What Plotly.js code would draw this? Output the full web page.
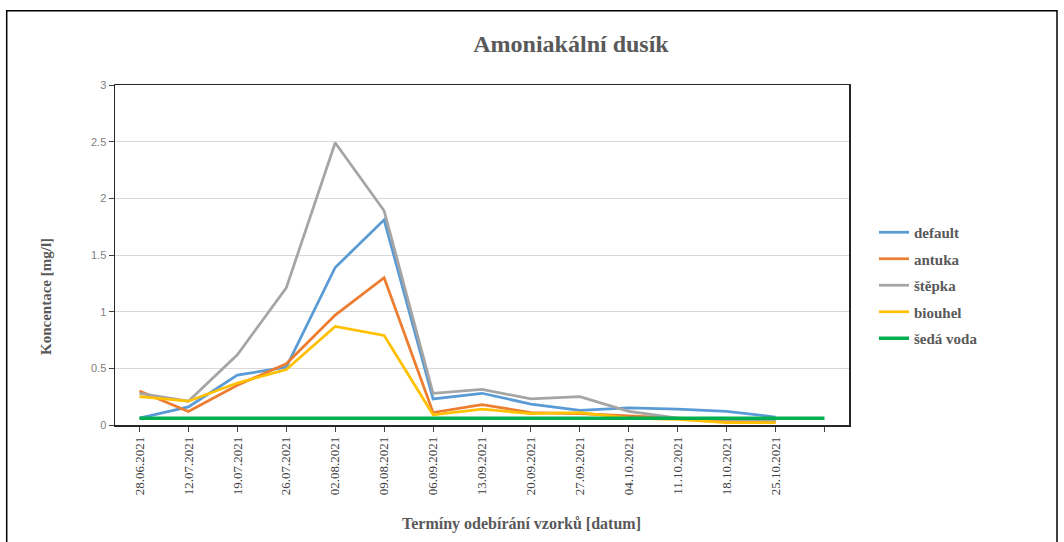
<!DOCTYPE html>
<html>
<head>
<meta charset="utf-8">
<script src="https://cdn.plot.ly/plotly-3.0.1.min.js"></script>
<style>html,body{margin:0;padding:0;background:#fff;}#chart{width:1064px;height:542px;}</style>
</head>
<body>
<div id="chart"></div>
<script>
const dates = ["28.06.2021","12.07.2021","19.07.2021","26.07.2021","02.08.2021","09.08.2021","06.09.2021","13.09.2021","20.09.2021","27.09.2021","04.10.2021","11.10.2021","18.10.2021","25.10.2021"," "];
const seriesNames = ["default","antuka","štěpka","biouhel","šedá voda"];
const seriesColors = ["#5b9bd5","#ed7d31","#a5a5a5","#ffc000","#00b050"];
const defaultVals = [0.06,0.16,0.44,0.51,1.39,1.81,0.23,0.28,0.185,0.13,0.15,0.14,0.12,0.07];
const antukaVals  = [0.30,0.12,0.35,0.54,0.97,1.30,0.11,0.18,0.11,0.10,0.08,0.06,0.04,0.03];
const stepkaVals  = [0.28,0.21,0.62,1.21,2.49,1.89,0.28,0.315,0.23,0.25,0.12,0.06,0.05,0.04];
const biouhelVals = [0.25,0.21,0.37,0.49,0.87,0.79,0.09,0.14,0.10,0.11,0.06,0.05,0.02,0.02];
const sedaVodaVals = [0.06,0.06,0.06,0.06,0.06,0.06,0.06,0.06,0.06,0.06,0.06,0.06,0.06,0.06,0.06];
const allVals = [defaultVals, antukaVals, stepkaVals, biouhelVals, sedaVodaVals];

const traces = allVals.map((v, i) => ({
  type: 'scatter', mode: 'lines',
  x: dates.slice(0, v.length), y: v,
  name: seriesNames[i], legendgroup: 'g' + i,
  line: {color: seriesColors[i], width: i === 4 ? 3.5 : 2.75}
}));

const L = 115, R = 849, T = 85, B = 425, W = 1064, H = 542;
const px = x => (x - L) / (R - L);
const py = y => (B - y) / (B - T);
const serif = '"Liberation Serif", "Times New Roman", serif';

const layout = {
  width: W, height: H,
  margin: {l: L, r: W - R, t: T, b: H - B},
  paper_bgcolor: '#fff', plot_bgcolor: '#fff',
  showlegend: true,
  title: {text: '<b>Amoniakální dusík</b>', font: {family: serif, size: 24, color: '#595959'},
          xref: 'container', yref: 'container', x: 571 / W, y: 1 - 44 / H, xanchor: 'center', yanchor: 'middle'},
  xaxis: {type: 'category', categoryorder: 'array', categoryarray: dates, range: [-0.5, 14.5],
          tickangle: -90, ticks: 'outside', ticklen: 5, tickcolor: '#404040', tickwidth: 1,
          showline: true, linecolor: '#262626', linewidth: 1.5, mirror: true, showgrid: false,
          tickfont: {family: serif, size: 13, color: '#404040'}, automargin: false},
  yaxis: {range: [0, 3], dtick: 0.5, tick0: 0, ticks: 'outside', ticklen: 5, tickcolor: '#404040',
          showline: true, linecolor: '#262626', linewidth: 1.5, mirror: true,
          showgrid: true, gridcolor: '#d9d9d9', gridwidth: 1, zeroline: false,
          tickfont: {family: '"Liberation Sans", Arial, sans-serif', size: 11, color: '#808080'}, automargin: false},
  legend: {x: px(874), y: py(216), xanchor: 'left', yanchor: 'top', tracegroupgap: 4,
           font: {family: serif, size: 15, color: '#595959', weight: 'bold'}, bgcolor: 'rgba(0,0,0,0)'},
  annotations: [
    {text: '<b>Koncentace [mg/l]</b>', xref: 'paper', yref: 'paper', x: px(46), y: py(297), textangle: -90,
     showarrow: false, xanchor: 'center', yanchor: 'middle', font: {family: serif, size: 15, color: '#595959'}},
    {text: '<b>Termíny odebírání vzorků [datum]</b>', xref: 'paper', yref: 'paper', x: px(521), y: py(524),
     showarrow: false, xanchor: 'center', yanchor: 'middle', font: {family: serif, size: 16, color: '#595959'}}
  ],
  shapes: [
    {type: 'rect', xref: 'paper', yref: 'paper', x0: px(6.7), x1: px(1057), y0: py(560), y1: py(10.7),
     line: {color: '#000', width: 1.5}, fillcolor: 'rgba(0,0,0,0)', layer: 'below'}
  ]
};

Plotly.newPlot('chart', traces, layout, {displayModeBar: false, staticPlot: true});
</script>
</body>
</html>
